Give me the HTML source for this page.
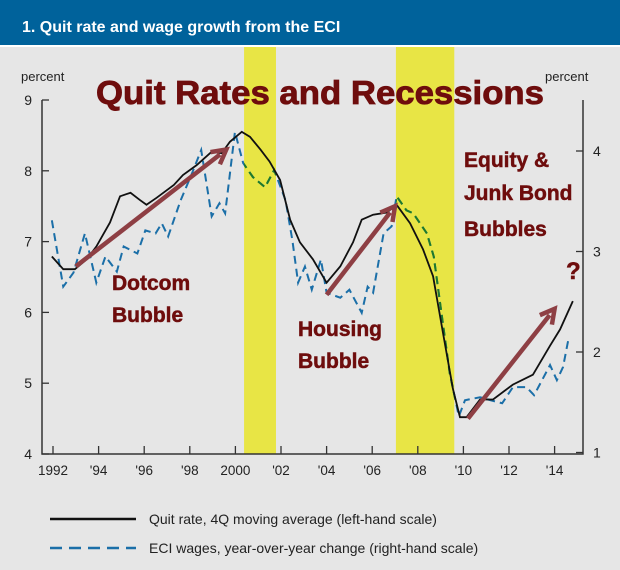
<!DOCTYPE html>
<html><head><meta charset="utf-8"><style>
body{margin:0;width:620px;height:565px;overflow:hidden;background:#e6e6e6;font-family:"Liberation Sans",sans-serif}
</style></head><body>
<svg id="c" width="620" height="565" xmlns="http://www.w3.org/2000/svg">
<rect x="0" y="0" width="620" height="565" fill="#e6e6e6"/>
<rect x="0" y="0" width="620" height="45" fill="#00629b"/>
<rect x="0" y="45" width="620" height="2" fill="#ffffff"/>
<text x="22" y="32" font-size="16" font-weight="bold" fill="#fff">1. Quit rate and wage growth from the ECI</text>
<g id="rec"></g>
<text x="21" y="81" font-size="13" fill="#222">percent</text>
<text x="545" y="81" font-size="13" fill="#222">percent</text>
<text x="96" y="104" font-size="33" font-weight="bold" fill="#6e0d0d" textLength="448" lengthAdjust="spacingAndGlyphs" stroke="#6e0d0d" stroke-width="0.8">Quit Rates and Recessions</text>
<g id="axes"></g>
<g id="series"></g>
<g id="notes" fill="#6e0d0d" font-weight="bold" font-size="21" stroke="#6e0d0d" stroke-width="0.5">
<text x="112" y="290">Dotcom</text>
<text x="112" y="322">Bubble</text>
<text x="298" y="336">Housing</text>
<text x="298" y="368">Bubble</text>
<text x="464" y="167">Equity &amp;</text>
<text x="464" y="200">Junk Bond</text>
<text x="464" y="236">Bubbles</text>
<text x="566" y="279" font-size="24">?</text>
</g>
<g id="arrows"></g>
<line x1="50" y1="519" x2="136" y2="519" stroke="#111" stroke-width="2.5"/>
<text x="149" y="524" font-size="14" fill="#222">Quit rate, 4Q moving average (left-hand scale)</text>
<line x1="50" y1="548" x2="136" y2="548" stroke="#1b6fa8" stroke-width="2.5" stroke-dasharray="12,7"/>
<text x="149" y="553" font-size="14" fill="#222">ECI wages, year-over-year change (right-hand scale)</text>
</svg>
<script>
const yearTicks=[1992,1994,1996,1998,2000,2002,2004,2006,2008,2010,2012,2014];
const yearLabels=["1992","'94","'96","'98","2000","'02","'04","'06","'08","'10","'12","'14"];
const leftTicks=[4,5,6,7,8,9];
const rightTicks=[1,2,3,4];
const recStart=[2000.38,2007.04];
const recEnd=[2001.78,2009.6];
const quitYears=[1991.95,1992.45,1992.96,1993.48,1993.9,1994.5,1994.94,1995.4,1995.8,1996.1,1996.55,1997.3,1997.7,1998.3,1998.96,1999.4,1999.76,2000.28,2000.64,2001.1,2001.5,2001.96,2002.4,2002.83,2003.4,2004.0,2004.6,2005.16,2005.54,2006.04,2006.64,2007.07,2007.66,2008.23,2008.67,2009.1,2009.54,2009.85,2010.14,2010.73,2011.3,2012.17,2013.05,2013.8,2014.24,2014.8];
const quitVals=[6.79,6.61,6.61,6.75,6.93,7.27,7.64,7.69,7.59,7.52,7.62,7.8,7.94,8.08,8.27,8.25,8.41,8.55,8.48,8.3,8.13,7.87,7.31,6.99,6.75,6.42,6.65,6.99,7.31,7.38,7.41,7.52,7.26,6.89,6.51,5.72,4.92,4.52,4.52,4.77,4.77,4.98,5.12,5.53,5.76,6.16];
const eciYears=[1991.95,1992.45,1992.9,1993.4,1993.9,1994.3,1994.8,1995.1,1995.7,1996.05,1996.5,1996.77,1997.05,1997.6,1998.1,1998.5,1998.96,1999.3,1999.55,1999.98,2000.34,2000.77,2001.3,2001.7,2002.2,2002.5,2002.75,2003.05,2003.35,2003.75,2004.0,2004.6,2005.0,2005.54,2005.8,2006.04,2006.5,2006.85,2007.07,2007.5,2007.8,2008.4,2008.7,2009.0,2009.4,2009.8,2010.07,2010.73,2011.2,2011.7,2012.17,2012.77,2013.1,2013.8,2014.1,2014.37,2014.6];
const eciVals=[3.31,2.65,2.79,3.18,2.69,2.95,2.8,3.05,2.98,3.21,3.18,3.28,3.15,3.51,3.78,4.01,3.35,3.48,3.38,4.19,3.88,3.74,3.64,3.81,3.51,3.11,2.69,2.85,2.62,2.92,2.59,2.54,2.62,2.39,2.65,2.59,3.18,3.25,3.55,3.41,3.38,3.18,2.95,2.45,1.79,1.36,1.52,1.55,1.52,1.49,1.65,1.65,1.57,1.87,1.72,1.85,2.12];
const arrowFrom=[[1993.0,6.65],[2004.0,6.25],[2010.2,4.5]];
const arrowTo=[[1999.6,8.3],[2007.0,7.5],[2014.0,6.05]];

const NS="http://www.w3.org/2000/svg";
const X0=42,X1=583,YB=454;
const xs=y=>53+(y-1992)*22.8;
const yl=v=>100+(9-v)*70.8;
const yr=v=>151+(4-v)*100.5;
function mk(tag,attrs,parent){const e=document.createElementNS(NS,tag);for(const k in attrs)e.setAttribute(k,attrs[k]);document.getElementById(parent).appendChild(e);return e;}

recStart.forEach((s,i)=>{
  const r=mk('rect',{x:xs(s),y:47,width:xs(recEnd[i])-xs(s),height:YB-47,fill:'#e8e545'},'rec');
  
  
});
let a=mk('path',{d:`M${X0},100 L${X0},${YB} L${X1},${YB} L${X1},100`,fill:'none',stroke:'#333','stroke-width':1.5},'axes');


yearTicks.forEach((y,i)=>{
  const t=mk('line',{x1:xs(y),x2:xs(y),y1:YB,y2:YB-8,stroke:'#333','stroke-width':1.3},'axes');
  
  
  const l=mk('text',{x:xs(y),y:475,'font-size':13.5,'text-anchor':'middle',fill:'#222'},'axes');
  l.textContent=yearLabels[i];
  
  
});
leftTicks.forEach(v=>{
  const t=mk('line',{x1:X0,x2:X0+7,y1:yl(v),y2:yl(v),stroke:'#333','stroke-width':1.3},'axes');
  
  
  const l=mk('text',{x:32,y:yl(v)+5,'font-size':14,'text-anchor':'end',fill:'#222'},'axes');
  l.textContent=v;
  
  
});
rightTicks.forEach(v=>{
  const t=mk('line',{x1:X1-7,x2:X1,y1:yr(v),y2:yr(v),stroke:'#333','stroke-width':1.3},'axes');
  
  
  const l=mk('text',{x:593,y:yr(v)+5,'font-size':14,fill:'#222'},'axes');
  l.textContent=v;
  
  
});
const eciD='M'+eciYears.map((y,i)=>xs(y)+','+yr(eciVals[i])).join(' L');
let e=mk('path',{d:eciD,fill:'none',stroke:'#1b6fa8','stroke-width':2,'stroke-dasharray':'8,5'},'series');


const cp=mk('clipPath',{id:'rc'},'series');
recStart.forEach((s,i)=>{const r=document.createElementNS(NS,'rect');r.setAttribute('x',xs(s));r.setAttribute('y',0);r.setAttribute('width',xs(recEnd[i])-xs(s));r.setAttribute('height',565);cp.appendChild(r);});
let eg=mk('path',{d:eciD,fill:'none',stroke:'#1f7a2a','stroke-width':2,'stroke-dasharray':'8,5','clip-path':'url(#rc)'},'series');


let q=mk('path',{d:'M'+quitYears.map((y,i)=>xs(y)+','+yl(quitVals[i])).join(' L'),fill:'none',stroke:'#111','stroke-width':1.8},'series');


arrowFrom.forEach((f,i)=>{
  const x1=xs(f[0]),y1=yl(f[1]),x2=xs(arrowTo[i][0]),y2=yl(arrowTo[i][1]);
  const ang=Math.atan2(y2-y1,x2-x1),L=16,W=0.5;
  const ln=mk('line',{x1:x1,y1:y1,x2:x2-8*Math.cos(ang),y2:y2-8*Math.sin(ang),stroke:'#8e3f44','stroke-width':4.5},'arrows');
  
  
  const hd=mk('polyline',{points:`${x2-L*Math.cos(ang-W)},${y2-L*Math.sin(ang-W)} ${x2},${y2} ${x2-L*Math.cos(ang+W)},${y2-L*Math.sin(ang+W)}`,fill:'none',stroke:'#8e3f44','stroke-width':4.5},'arrows');
  
  
});
</script>
</body></html>
